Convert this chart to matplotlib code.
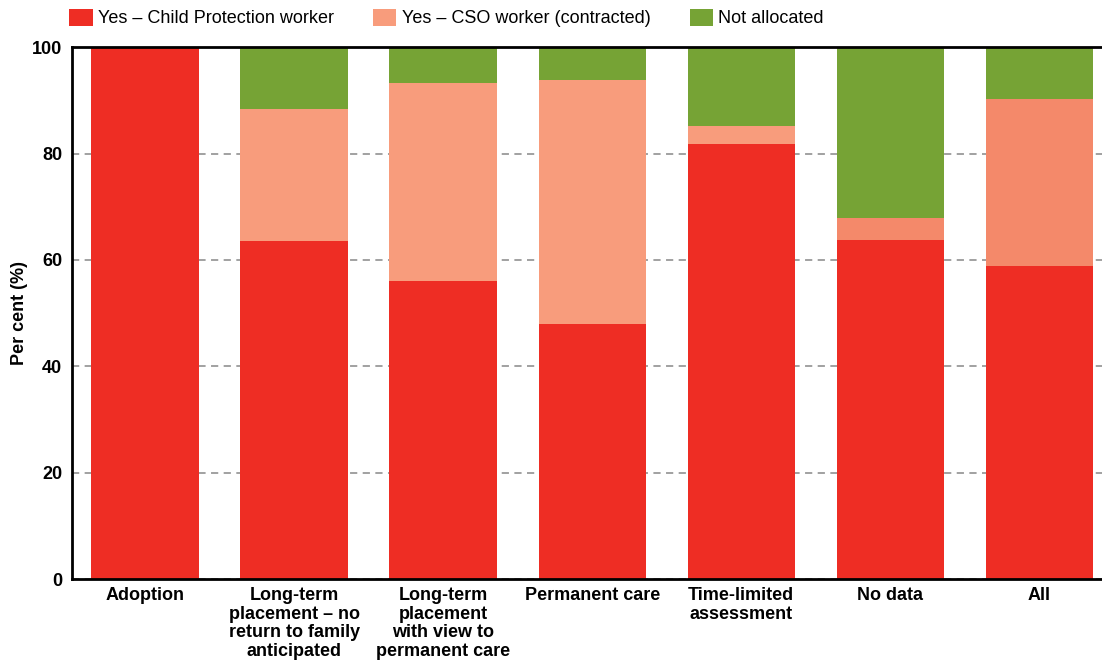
import matplotlib.pyplot as plt
import numpy as np

plt.rcParams['font.family'] = ['Liberation Sans', 'DejaVu Sans']

categories = ['Adoption',
              'Long-term\nplacement – no\nreturn to family\nanticipated',
              'Long-term\nplacement\nwith view to\npermanent care',
              'Permanent care',
              'Time-limited\nassessment',
              'No data',
              'All']
child_protection = [100.0, 63.6, 56.1, 47.9, 81.7, 63.8, 58.8]
cso_worker = [0.0, 24.7, 37.1, 45.9, 3.5, 4.1, 31.4]
not_allocated = [0.0, 11.7, 6.8, 6.2, 14.8, 32.1, 9.8]

series_names = ['Yes – Child Protection worker',
                'Yes – CSO worker (contracted)',
                'Not allocated']

RED = '#ee2d24'
SALMON = '#f89c7c'
SALMON_DARK = '#f4896a'
GREEN = '#76a335'

fig = plt.figure(figsize=(11.02, 6.64), dpi=100)
ax = fig.add_axes([0.0653, 0.128, 0.9347, 0.801])

x = np.arange(len(categories))
width = 0.72
cp = np.array(child_protection)
cso = np.array(cso_worker)
na = np.array(not_allocated)

# the last two groups use a slightly deeper salmon
cso_colors = [SALMON] * 5 + [SALMON_DARK] * 2

ax.bar(x, cp, width, color=RED, label=series_names[0], zorder=2)
ax.bar(x, cso, width, bottom=cp, color=cso_colors, label=series_names[1], zorder=2)
ax.bar(x, na, width, bottom=cp + cso, color=GREEN, label=series_names[2], zorder=2)

ax.set_xlim(-0.49, 6.42)
ax.set_ylim(0, 100)
ax.set_yticks([0, 20, 40, 60, 80, 100])
ax.set_xticks(x)
ax.set_xticklabels(categories, fontsize=13, fontweight='bold', linespacing=1.12)
ax.tick_params(axis='y', labelsize=13, length=0, pad=7)
ax.tick_params(axis='x', length=0, pad=6)
for lab in ax.get_yticklabels():
    lab.set_fontweight('bold')

ax.set_ylabel('Per cent (%)', fontsize=13, fontweight='bold', labelpad=3)

ax.yaxis.grid(True, linestyle=(0, (4, 3)), color='#9a9a9a', linewidth=1.3, zorder=0)
ax.set_axisbelow(True)

for side in ['left', 'bottom', 'top']:
    ax.spines[side].set_color('black')
    ax.spines[side].set_linewidth(2.0)
ax.spines['right'].set_visible(False)

handles, labels = ax.get_legend_handles_labels()
handles[1].patches[0].set_facecolor(SALMON)
leg = fig.legend(handles, labels, loc='upper left', bbox_to_anchor=(0.0565, 0.998),
                 ncol=3, frameon=False, fontsize=13, handlelength=1.28,
                 handleheight=1.1, handletextpad=0.28, columnspacing=2.2,
                 borderaxespad=0.4, borderpad=0.0)

fig.savefig('out.png', dpi=100)
